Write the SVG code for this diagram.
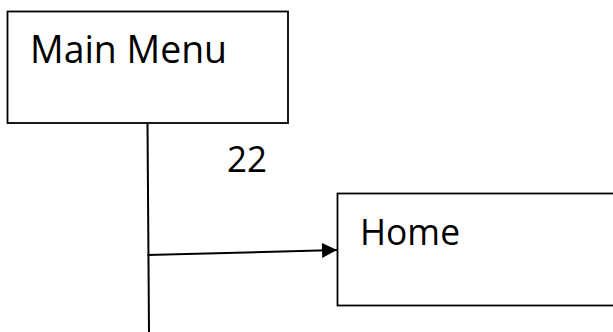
<svg xmlns="http://www.w3.org/2000/svg" width="613" height="332" viewBox="0 0 613 332">
<style>
.box{fill:#fff;stroke:#000;stroke-width:1.8}
.lbl{font-family:"Open Sans","Liberation Sans",sans-serif;fill:#000}
.con{fill:none;stroke:#000;stroke-width:2}
</style>
<defs>
<marker id="arr" markerWidth="15" markerHeight="15" refX="15" refY="7.5" orient="auto" markerUnits="userSpaceOnUse">
<path d="M0,0 L15,7.5 L0,15 Z" fill="#000"/>
</marker>
</defs>
<rect width="613" height="332" fill="#fff"/>
<g id="main-menu">
<rect class="box" x="7.5" y="11.5" width="280.5" height="111.5"/>
<text class="lbl" x="30" y="63" font-size="38" textLength="197" lengthAdjust="spacingAndGlyphs">Main Menu</text>
</g>
<g id="home">
<rect class="box" x="337.5" y="193.5" width="290" height="112"/>
<text class="lbl" x="360" y="245" font-size="36" textLength="100" lengthAdjust="spacingAndGlyphs">Home</text>
</g>
<g id="label-22">
<text class="lbl" x="227" y="172" font-size="36" textLength="40" lengthAdjust="spacingAndGlyphs">22</text>
</g>
<g id="connectors">
<path class="con" d="M147.5,123 L149,332"/>
<path class="con" d="M147.5,255 L337,250" marker-end="url(#arr)"/>
</g>
</svg>
